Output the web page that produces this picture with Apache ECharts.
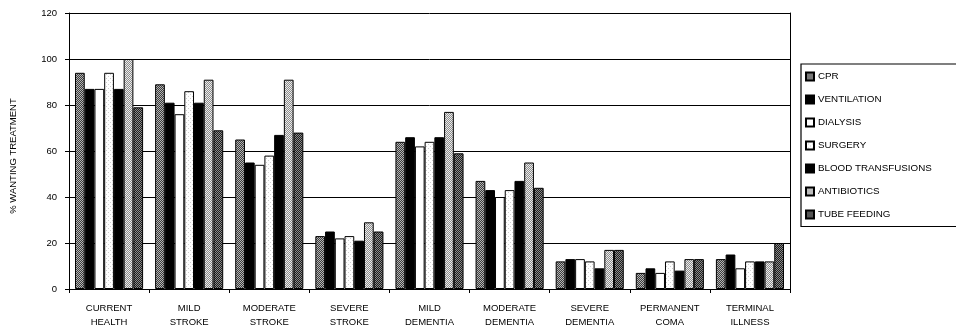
<!DOCTYPE html>
<html>
<head>
<meta charset="utf-8">
<script src="https://cdn.jsdelivr.net/npm/echarts@6/dist/echarts.min.js"></script>
<style>
html,body{margin:0;padding:0;background:#fff;}
#c{width:956px;height:327px;}
</style>
</head>
<body>
<div id="c"></div>
<script>
const categories = ['CURRENT\nHEALTH','MILD\nSTROKE','MODERATE\nSTROKE','SEVERE\nSTROKE','MILD\nDEMENTIA','MODERATE\nDEMENTIA','SEVERE\nDEMENTIA','PERMANENT\nCOMA','TERMINAL\nILLNESS'];
const seriesNames = ['CPR','VENTILATION','DIALYSIS','SURGERY','BLOOD TRANSFUSIONS','ANTIBIOTICS','TUBE FEEDING'];
const cpr         = [94, 89, 65, 23, 64, 47, 12, 7, 13];
const ventilation = [87, 81, 55, 25, 66, 43, 13, 9, 15];
const dialysis    = [87, 76, 54, 22, 62, 40, 13, 7, 9];
const surgery     = [94, 86, 58, 23, 64, 43, 12, 12, 12];
const blood       = [87, 81, 67, 21, 66, 47, 9, 8, 12];
const antibiotics = [100, 91, 91, 29, 77, 55, 17, 13, 12];
const tubeFeeding = [79, 69, 68, 25, 59, 44, 17, 13, 20];
const yTicks = [0, 20, 40, 60, 80, 100, 120];

function checker(a, b) {
  const c = document.createElement('canvas');
  c.width = 2; c.height = 2;
  const g = c.getContext('2d');
  g.fillStyle = a; g.fillRect(0,0,2,2);
  g.fillStyle = b; g.fillRect(0,0,1,1); g.fillRect(1,1,1,1);
  return {image: c, repeat: 'repeat'};
}
function sparse(bg, dot) {
  const c = document.createElement('canvas');
  c.width = 4; c.height = 4;
  const g = c.getContext('2d');
  g.fillStyle = bg; g.fillRect(0,0,4,4);
  g.fillStyle = dot; g.fillRect(0,0,1,1); g.fillRect(2,2,1,1);
  return {image: c, repeat: 'repeat'};
}
const fills = [
  checker('#3c3c3c', '#b4b4b4'),
  '#000000',
  '#ffffff',
  sparse('#ffffff', '#cfcfcf'),
  '#000000',
  checker('#8c8c8c', '#ececec'),
  checker('#1e1e1e', '#8a8a8a')
];
const values = [cpr, ventilation, dialysis, surgery, blood, antibiotics, tubeFeeding];
const font = 'Liberation Sans, Arial, sans-serif';

const chart = echarts.init(document.getElementById('c'), null, {renderer: 'canvas'});
chart.setOption({
  animation: false,
  backgroundColor: '#fff',
  textStyle: {fontFamily: font},
  grid: {left: 69, right: 166, top: 13, bottom: 38, containLabel: false, outerBoundsMode: 'none'},
  legend: {
    orient: 'vertical',
    left: 801, top: 64,
    itemWidth: 8, itemHeight: 8,
    itemGap: 13,
    icon: 'rect',
    borderColor: '#000', borderWidth: 1.2,
    padding: [7.5, 40, 7, 4],
    textStyle: {fontSize: 9.8, color: '#000', fontFamily: font, padding: [0,0,0,-1]},
    data: seriesNames
  },
  xAxis: {
    type: 'category',
    data: categories,
    axisLine: {lineStyle: {color: '#000', width: 1}},
    axisTick: {show: true, length: 4, lineStyle: {color: '#000'}},
    axisLabel: {color: '#000', fontSize: 9.5, lineHeight: 14, margin: 12, interval: 0, fontFamily: font}
  },
  yAxis: [{
    type: 'value',
    min: 0, max: 120, interval: 20,
    name: '% WANTING TREATMENT',
    nameLocation: 'middle',
    nameRotate: 90,
    nameGap: 51,
    nameTextStyle: {fontSize: 9.5, color: '#000', fontFamily: font, padding: [0, 10, 0, 0]},
    axisLine: {show: true, lineStyle: {color: '#000', width: 1}},
    axisTick: {show: true, length: 4, lineStyle: {color: '#000'}},
    axisLabel: {color: '#000', fontSize: 9.5, margin: 12, fontFamily: font,
      formatter: v => yTicks.indexOf(v) >= 0 ? String(v) : ''},
    splitLine: {show: true, lineStyle: {color: '#000', width: 1}}
  }, {
    type: 'value',
    position: 'right',
    min: 0, max: 120, interval: 20,
    axisLine: {show: true, lineStyle: {color: '#000', width: 1}},
    axisTick: {show: false},
    axisLabel: {show: false},
    splitLine: {show: false}
  }],
  series: seriesNames.map((n, i) => ({
    name: n,
    type: 'bar',
    data: values[i],
    barGap: '0%',
    barCategoryGap: '15%',
    itemStyle: {color: fills[i], borderColor: '#000', borderWidth: 1}
  }))
});
</script>
</body>
</html>
